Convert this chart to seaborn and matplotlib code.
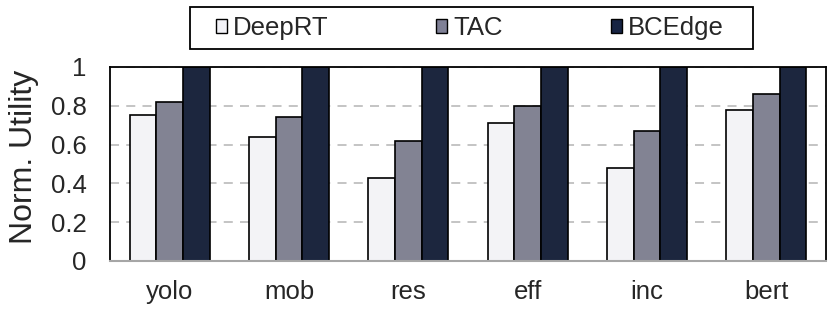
import matplotlib
matplotlib.use("Agg")
import matplotlib.pyplot as plt
import matplotlib.patches as mpatches
import seaborn as sns
import pandas as pd

categories = ["yolo", "mob", "res", "eff", "inc", "bert"]
series = ["DeepRT", "TAC", "BCEdge"]
deeprt = [0.75, 0.64, 0.43, 0.71, 0.48, 0.78]
tac = [0.82, 0.74, 0.62, 0.80, 0.67, 0.86]
bcedge = [1.0, 1.0, 1.0, 1.0, 1.0, 1.0]
yticks = [0, 0.2, 0.4, 0.6, 0.8, 1]
ytick_labels = ["0", "0.2", "0.4", "0.6", "0.8", "1"]
colors = ["#F2F2F7", "#7F8096", "#172443"]

rows = []
for name, vals in zip(series, [deeprt, tac, bcedge]):
    for c, v in zip(categories, vals):
        rows.append({"model": c, "method": name, "value": v})
df = pd.DataFrame(rows)

sns.set_style("white")
plt.rcParams["font.family"] = ["Liberation Sans", "DejaVu Sans"]

W, H = 830, 310
fig = plt.figure(figsize=(8.3, 3.1), dpi=100)
ax = fig.add_axes([110 / W, 49 / H, 716 / W, 194 / H])

sns.barplot(data=df, x="model", y="value", hue="method", order=categories,
            hue_order=series, palette=colors, width=0.67, edgecolor="black",
            linewidth=1.2, ax=ax, legend=True)

ax.set_ylim(0, 1)
ax.set_xlim(-0.5, len(categories) - 0.5)
ax.set_yticks(yticks)
ax.set_yticklabels(ytick_labels)
ax.yaxis.grid(True, linestyle=(0, (5, 4)), color="#BFBFBF", linewidth=1.3)
ax.set_axisbelow(True)
ax.tick_params(axis="both", length=0, labelsize=18.5)
ax.tick_params(axis="y", pad=17)
ax.tick_params(axis="x", pad=14)
ax.set_xlabel("")
ax.set_ylabel("Norm. Utility", fontsize=23)
ax.yaxis.set_label_coords(-71 / 716, 0.539)
for s in ["left", "top", "right"]:
    ax.spines[s].set_color("black")
    ax.spines[s].set_linewidth(1.3)
ax.spines["bottom"].set_color("#A6A6A6")
ax.spines["bottom"].set_linewidth(1.5)

ax.legend_.remove()
handles = [mpatches.Rectangle((0, 0), 1, 1, facecolor=c, edgecolor="black", linewidth=1.0) for c in colors]
leg = fig.legend(handles, series, loc="center", bbox_to_anchor=(470 / W, 1 - 28 / H),
                 ncol=3, frameon=False, fontsize=18.5, handlelength=0.43,
                 handleheight=0.43, handletextpad=0.25, columnspacing=4.18)
frame = mpatches.Rectangle((190 / W, 1 - 49 / H), 563 / W, 42 / H, transform=fig.transFigure,
                           facecolor="none", edgecolor="black", linewidth=1.3)
fig.patches.append(frame)

fig.savefig("out.png", dpi=100)
